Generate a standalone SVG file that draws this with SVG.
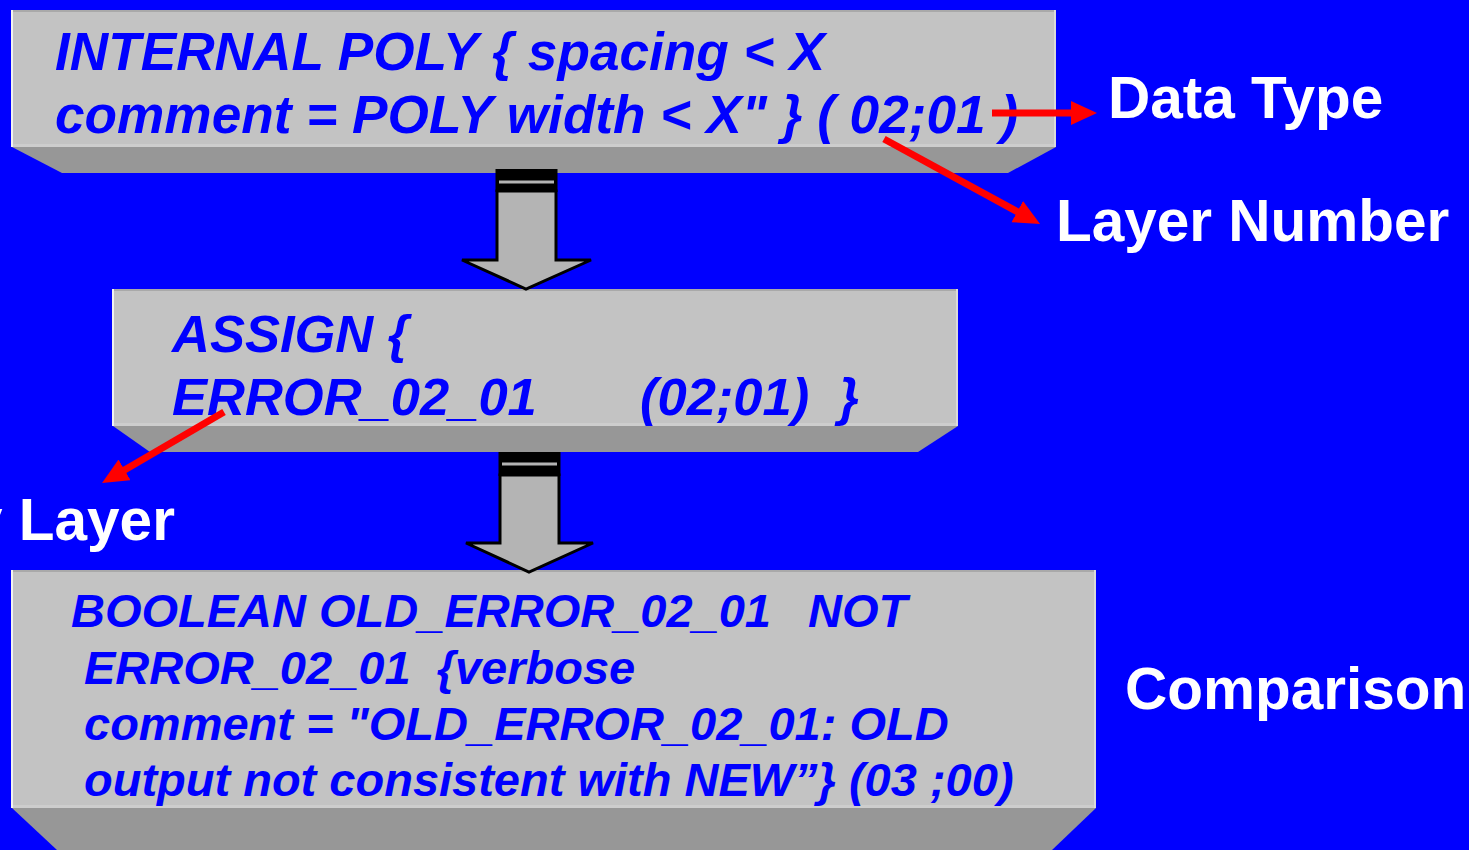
<svg xmlns="http://www.w3.org/2000/svg" width="1469" height="850" viewBox="0 0 1469 850">
<defs>
<style>
.bg{fill:#0000ff}
.face{fill:#c3c3c3}
.topline{fill:#a9a9a9}
.hl{fill:#f2f2f2}
.rhl{fill:#dadada}
.botline{fill:#cdcdcd}
.bevel{fill:#979797}
.code{font-family:"Liberation Sans",Arial,sans-serif;font-weight:bold;font-style:italic;fill:#0000ff}
.lbl{font-family:"Liberation Sans",Arial,sans-serif;font-weight:bold;fill:#ffffff;font-size:58.5px}
.blk{fill:#b4b4b4;stroke:#000000;stroke-width:3;stroke-linejoin:miter}
.band{fill:#000000}
.stripe{fill:#b4b4b4}
.red{stroke:#ff0000;stroke-width:7;fill:none}
</style>
<marker id="rh" markerUnits="userSpaceOnUse" markerWidth="28" markerHeight="26" refX="2" refY="12" orient="auto">
<path d="M0,0 L26,12 L0,24 z" fill="#ff0000"/>
</marker>
</defs>
<rect class="bg" x="0" y="0" width="1469" height="850"/>

<g id="node-internal">
<polygon class="bevel" points="12,147 1056,147 1008,173 62,173"/>
<rect class="face" x="12" y="10" width="1044" height="137"/>
<rect class="topline" x="12" y="10" width="1044" height="2"/>
<rect class="botline" x="12" y="144" width="1044" height="3"/>
<rect class="hl" x="11" y="10" width="2" height="137"/>
<rect class="rhl" x="1054" y="10" width="2" height="137"/>
<text class="code" font-size="53.2" x="55" y="70">INTERNAL POLY { spacing &lt; X</text>
<text class="code" font-size="53.2" x="55" y="133">comment = POLY width &lt; X" } ( 02;01 )</text>
</g>

<g id="node-assign">
<polygon class="bevel" points="113,426 958,426 918,452 150,452"/>
<rect class="face" x="113" y="289" width="845" height="137"/>
<rect class="topline" x="113" y="289" width="845" height="2"/>
<rect class="botline" x="113" y="423" width="845" height="3"/>
<rect class="hl" x="112" y="289" width="2" height="137"/>
<rect class="rhl" x="956" y="289" width="2" height="137"/>
<text class="code" font-size="52.5" x="172" y="352">ASSIGN {</text>
<text class="code" font-size="52.5" x="172" y="415" xml:space="preserve">ERROR_02_01<tspan x="640">(02;01)  }</tspan></text>
</g>

<g id="node-boolean">
<polygon class="bevel" points="12,808 1096,808 1052,850 57,850"/>
<rect class="face" x="12" y="570" width="1084" height="238"/>
<rect class="topline" x="12" y="570" width="1084" height="2"/>
<rect class="botline" x="12" y="805" width="1084" height="3"/>
<rect class="hl" x="11" y="570" width="2" height="238"/>
<rect class="rhl" x="1094" y="570" width="2" height="238"/>
<text class="code" font-size="47" x="71" y="627" xml:space="preserve">BOOLEAN OLD_ERROR_02_01<tspan x="808">NOT</tspan></text>
<text class="code" font-size="47" x="84" y="684" xml:space="preserve">ERROR_02_01  {verbose</text>
<text class="code" font-size="47" x="84" y="740">comment = "OLD_ERROR_02_01: OLD</text>
<text class="code" font-size="47" x="84" y="796">output not consistent with NEW”} (03 ;00)</text>
</g>

<g id="label-datatype"><text class="lbl" x="1108" y="118">Data Type</text></g>
<g id="label-layernumber"><text class="lbl" x="1056" y="241">Layer Number</text></g>
<g id="label-layer"><text class="lbl" x="-30" y="540">y Layer</text></g>
<g id="label-comparison"><text class="lbl" x="1125" y="709">Comparison</text></g>

<g id="connectors">
<g id="flow1">
<polygon class="blk" points="497,191 556,191 556,260 591,260 526,289 462,260 497,260"/>
<rect class="band" x="495.5" y="169" width="62" height="23"/>
<rect class="stripe" x="499" y="180.5" width="55" height="3"/>
</g>
<g id="flow2">
<polygon class="blk" points="500,475 559,475 559,543 593,543 529,572 466,543 500,543"/>
<rect class="band" x="498.5" y="452" width="62" height="24"/>
<rect class="stripe" x="502" y="462.5" width="55" height="3"/>
</g>
<line class="red" x1="992" y1="113" x2="1073" y2="113" marker-end="url(#rh)"/>
<line class="red" x1="884" y1="139" x2="1019" y2="212.6" marker-end="url(#rh)"/>
<line class="red" x1="224" y1="412" x2="122.8" y2="470.9" marker-end="url(#rh)"/>
</g>
</svg>
